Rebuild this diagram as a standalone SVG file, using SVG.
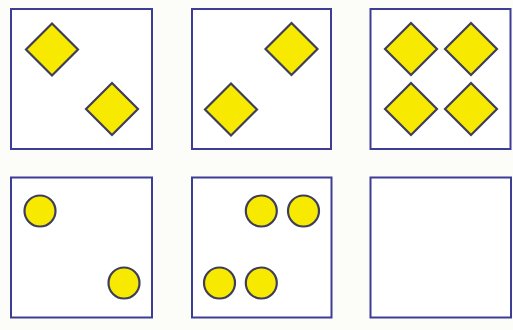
<svg xmlns="http://www.w3.org/2000/svg" width="513" height="330" viewBox="0 0 513 330">
<style>
.box{fill:#ffffff;stroke:#3d3d96;stroke-width:2}
.shape{fill:#f7ea00;stroke:#3e3e5a;stroke-width:2.2}
</style>
<defs>
<polygon id="dia" points="0,-26 26,0 0,26 -26,0"/>
</defs>
<rect width="513" height="330" fill="#fcfcf9"/>
<g id="panel1">
<rect class="box" x="11" y="9" width="141" height="140"/>
<use href="#dia" class="shape" x="52" y="49.5"/>
<use href="#dia" class="shape" x="112" y="109"/>
</g>
<g id="panel2">
<rect class="box" x="192" y="9" width="139" height="140"/>
<use href="#dia" class="shape" x="291.5" y="49"/>
<use href="#dia" class="shape" x="231" y="109.5"/>
</g>
<g id="panel3">
<rect class="box" x="370.5" y="9" width="140" height="140"/>
<use href="#dia" class="shape" x="411" y="49"/>
<use href="#dia" class="shape" x="471" y="49"/>
<use href="#dia" class="shape" x="411" y="109"/>
<use href="#dia" class="shape" x="471" y="109"/>
</g>
<g id="panel4">
<rect class="box" x="11" y="177.5" width="141" height="140"/>
<circle class="shape" cx="40" cy="211" r="15.5"/>
<circle class="shape" cx="124" cy="283" r="15.5"/>
</g>
<g id="panel5">
<rect class="box" x="192" y="177.5" width="139.5" height="140"/>
<circle class="shape" cx="261.3" cy="211" r="15.5"/>
<circle class="shape" cx="303.5" cy="211" r="15.5"/>
<circle class="shape" cx="219.5" cy="283" r="15.5"/>
<circle class="shape" cx="261.3" cy="283" r="15.5"/>
</g>
<g id="panel6">
<rect class="box" x="370.5" y="177.5" width="140.5" height="140"/>
</g>
<g id="connectors"/>
</svg>
